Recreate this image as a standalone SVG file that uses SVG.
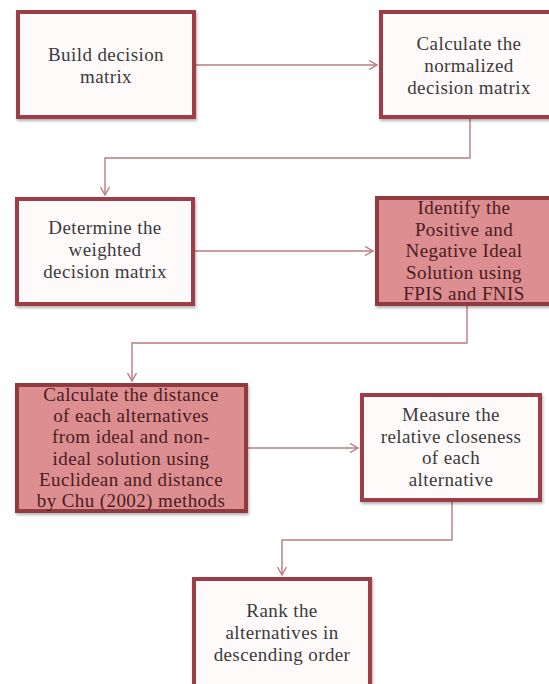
<svg xmlns="http://www.w3.org/2000/svg" width="549" height="684" viewBox="0 0 549 684">
<style>
  .box { fill: #fffafa; stroke: #9c3c46; stroke-width: 4; filter: url(#sh); }
  .pink { fill: #dc8e91; stroke: #8f3a40; stroke-width: 4; filter: url(#sh); }
  .t { font-family: "Liberation Serif", "DejaVu Serif", serif; font-size: 19px; letter-spacing: 0.4px; fill: #3a3a3a; text-anchor: middle; }
  .tp { font-family: "Liberation Serif", "DejaVu Serif", serif; font-size: 19px; letter-spacing: 0.4px; fill: #4a1c1e; text-anchor: middle; }
  .conn { fill: none; stroke: #b87c80; stroke-width: 1.4; marker-end: url(#arr); }
</style>
<defs>
  <filter id="sh" x="-10%" y="-10%" width="120%" height="125%">
    <feDropShadow dx="1" dy="2" stdDeviation="1.5" flood-color="#000" flood-opacity="0.3"/>
  </filter>
  <marker id="arr" viewBox="0 0 10 10" refX="9" refY="5" markerWidth="10" markerHeight="10" markerUnits="userSpaceOnUse" orient="auto">
    <path d="M1,0.5 L9,5 L1,9.5" fill="none" stroke="#b87c80" stroke-width="1.4"/>
  </marker>
</defs>
<rect width="549" height="684" fill="#ffffff"/>
<g id="connectors">
  <path class="conn" d="M196,65 H377"/>
  <path class="conn" d="M470,119 V158 H105 V195"/>
  <path class="conn" d="M195,251 H373"/>
  <path class="conn" d="M467,306 V343 H132 V381"/>
  <path class="conn" d="M248,448 H358"/>
  <path class="conn" d="M452,502 V540 H282 V575"/>
</g>
<g id="n1">
  <rect class="box" x="18" y="12" width="176" height="105"/>
  <text class="t" x="106" y="61">Build decision</text>
  <text class="t" x="106" y="83">matrix</text>
</g>
<g id="n2">
  <rect class="box" x="381" y="12" width="176" height="105"/>
  <text class="t" x="469" y="50">Calculate the</text>
  <text class="t" x="469" y="72">normalized</text>
  <text class="t" x="469" y="94">decision matrix</text>
</g>
<g id="n3">
  <rect class="box" x="17" y="199" width="176" height="105"/>
  <text class="t" x="105" y="234">Determine the</text>
  <text class="t" x="105" y="256">weighted</text>
  <text class="t" x="105" y="278">decision matrix</text>
</g>
<g id="n4">
  <rect class="pink" x="377" y="198" width="176" height="106"/>
  <text class="tp" x="464" y="214">Identify the</text>
  <text class="tp" x="464" y="235.5">Positive and</text>
  <text class="tp" x="464" y="257">Negative Ideal</text>
  <text class="tp" x="464" y="278.5">Solution using</text>
  <text class="tp" x="464" y="300">FPIS and FNIS</text>
</g>
<g id="n5">
  <rect class="pink" x="17" y="385" width="229" height="126"/>
  <text class="tp" x="131" y="401">Calculate the distance</text>
  <text class="tp" x="131" y="422.2">of each alternatives</text>
  <text class="tp" x="131" y="443.4">from ideal and non-</text>
  <text class="tp" x="131" y="464.6">ideal solution using</text>
  <text class="tp" x="131" y="485.8">Euclidean and distance</text>
  <text class="tp" x="131" y="507">by Chu (2002) methods</text>
</g>
<g id="n6">
  <rect class="box" x="362" y="395" width="178" height="105"/>
  <text class="t" x="451" y="421">Measure the</text>
  <text class="t" x="451" y="442.5">relative closeness</text>
  <text class="t" x="451" y="464">of each</text>
  <text class="t" x="451" y="485.5">alternative</text>
</g>
<g id="n7">
  <rect class="box" x="194" y="579" width="176" height="110"/>
  <text class="t" x="282" y="617">Rank the</text>
  <text class="t" x="282" y="639">alternatives in</text>
  <text class="t" x="282" y="661">descending order</text>
</g>
</svg>
